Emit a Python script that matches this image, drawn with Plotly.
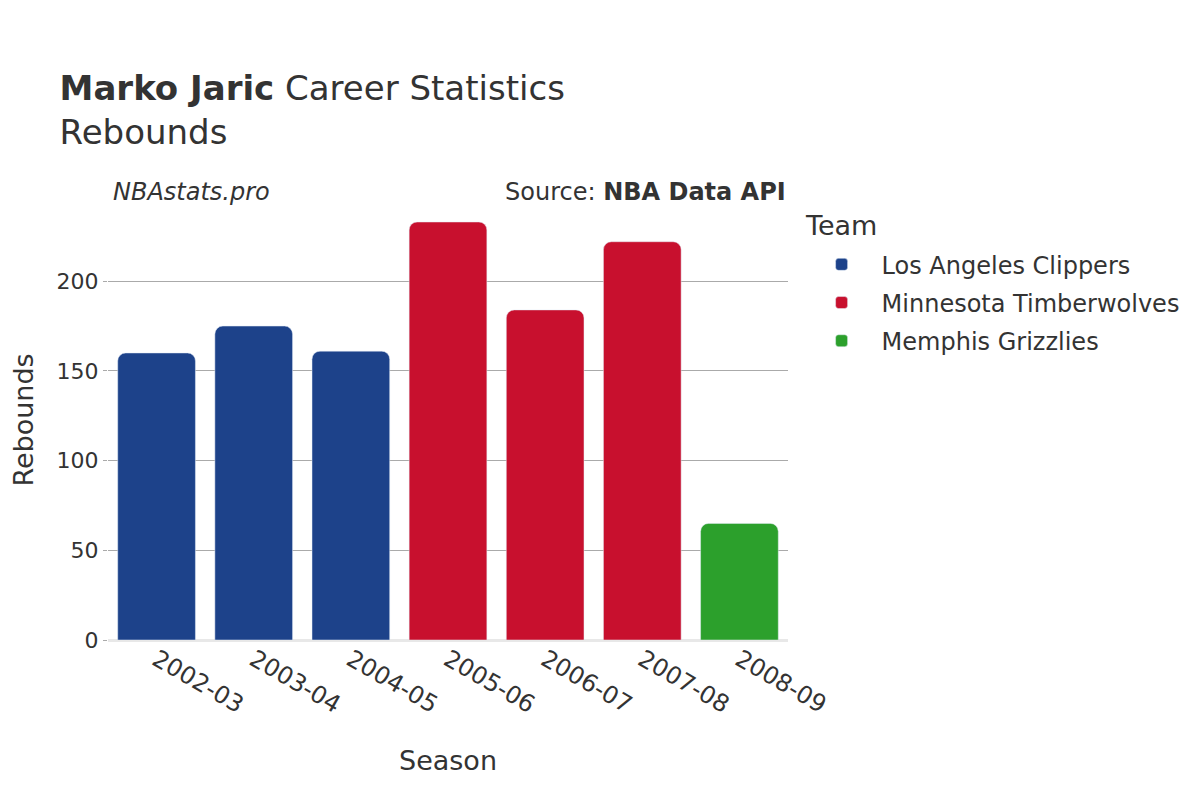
import plotly.graph_objects as go

seasons = ["2002-03", "2003-04", "2004-05", "2005-06", "2006-07", "2007-08", "2008-09"]
teams = ["Los Angeles Clippers", "Los Angeles Clippers", "Los Angeles Clippers",
         "Minnesota Timberwolves", "Minnesota Timberwolves", "Minnesota Timberwolves",
         "Memphis Grizzlies"]
rebounds = [160, 175, 161, 233, 184, 222, 65]

team_order = ["Los Angeles Clippers", "Minnesota Timberwolves", "Memphis Grizzlies"]
team_colors = {"Los Angeles Clippers": "#1D428A",
               "Minnesota Timberwolves": "#C8102E",
               "Memphis Grizzlies": "#2CA02C"}

fig = go.Figure()
for team in team_order:
    xs = [s for s, t in zip(seasons, teams) if t == team]
    ys = [r for r, t in zip(rebounds, teams) if t == team]
    fig.add_trace(go.Bar(x=xs, y=ys, name=team, legendgroup=team,
                         marker=dict(color=team_colors[team], cornerradius=8)))

fig.add_annotation(text="NBAstats.pro", xref="paper", yref="paper", x=0.004, y=1.0,
                   xanchor="left", yanchor="bottom", showarrow=False, yshift=-8,
                   font=dict(size=24, color="#333333", style="italic"))
fig.add_annotation(text="Source: <b>NBA Data API</b>", xref="paper", yref="paper", x=1.0, y=1.0,
                   xanchor="right", yanchor="bottom", showarrow=False, yshift=-8,
                   font=dict(size=24, color="#333333"))
# legend heading
fig.add_annotation(text="Team", xref="paper", yref="paper", x=1.022, y=0.941,
                   xanchor="left", yanchor="middle", showarrow=False,
                   font=dict(size=27, color="#333333"))

fig.update_layout(
    width=1200, height=800,
    font=dict(family="DejaVu Sans", color="#333333", size=23),
    title=dict(text="<b>Marko Jaric</b> Career Statistics<br>Rebounds",
               x=0.043, xanchor="left", y=0.885, yanchor="top",
               font=dict(size=34)),
    plot_bgcolor="white", paper_bgcolor="white",
    margin=dict(l=100, r=420, t=192, b=168),
    bargap=0.2,
    barmode="group",
    legend=dict(x=1.02, y=0.904, xanchor="left", yanchor="top",
                font=dict(size=24), itemwidth=70,
                traceorder="grouped", tracegroupgap=4),
    xaxis=dict(type="category", categoryorder="array", categoryarray=seasons,
               tickangle=30, automargin=False, tickfont=dict(size=24),
               title=dict(text="Season", font=dict(size=27), standoff=33)),
    yaxis=dict(title=dict(text="Rebounds", font=dict(size=27)),
               automargin=False, ticks="outside", ticklen=4, tickcolor="#AAAAAA",
               tickfont=dict(size=22),
               gridcolor="#AAAAAA", zeroline=True, zerolinecolor="#E8E8E8",
               zerolinewidth=3, tickvals=[0, 50, 100, 150, 200]),
)

fig.write_html("out.html")
